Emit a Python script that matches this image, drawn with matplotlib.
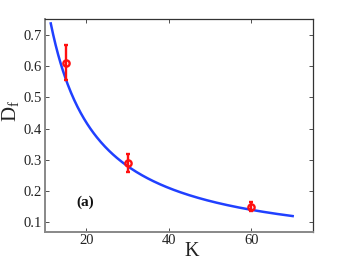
import numpy as np
import matplotlib
matplotlib.use("Agg")
import matplotlib.pyplot as plt

# Measured data
K_pts = [15, 30, 60]
Df_pts = [0.611, 0.290, 0.150]
err_low = [0.056, 0.029, 0.013]
err_high = [0.058, 0.028, 0.014]

# Fit curve parameters: Df = a * K^(-b)
fit_a = 8.4
fit_b = 1.0
fit_range = [11.4, 70]

xticks = [20, 40, 60]
yticks = [0.1, 0.2, 0.3, 0.4, 0.5, 0.6, 0.7]

plt.rcParams['font.family'] = ['Liberation Serif', 'DejaVu Serif']
plt.rcParams['mathtext.fontset'] = 'custom'
plt.rcParams['mathtext.rm'] = 'Liberation Serif'
plt.rcParams['mathtext.it'] = 'Liberation Serif'

fig = plt.figure(figsize=(3.46, 2.61), dpi=100)
ax = fig.add_axes([0.130, 0.1123, 0.7755, 0.8137])

Kf = np.linspace(fit_range[0], fit_range[1], 300)
ax.plot(Kf, fit_a * Kf ** (-fit_b), color='#2040ff', lw=1.8, zorder=2)

ax.errorbar(K_pts, Df_pts, yerr=[err_low, err_high], fmt='o', color='#ff1010',
            ms=4.5, mfc='none', mew=1.7, elinewidth=1.7, capsize=1.5, capthick=1.4, zorder=3)

ax.set_xlim(10, 75)
ax.set_ylim(0.07, 0.75)
ax.set_xticks(xticks)
ax.set_yticks(yticks)
ax.set_yticklabels([f'{v:.1f}' for v in yticks])
ax.tick_params(direction='in', length=3, width=0.6, labelsize=10.5, top=True, right=True,
               pad=2, colors='#333333', labelcolor='#222222')

for s in ['left', 'bottom']:
    ax.spines[s].set_color('#888888')
    ax.spines[s].set_linewidth(1.4)
for s in ['top', 'right']:
    ax.spines[s].set_color('#333333')
    ax.spines[s].set_linewidth(0.9)

ax.set_ylabel(r'D$_\mathrm{f}$', fontsize=15, color='#222222')
ax.yaxis.set_label_coords(-0.09, 0.57)
ax.set_xlabel('K', fontsize=14.5, color='#222222')
ax.xaxis.set_label_coords(0.545, -0.05)

ax.text(17.5, 0.165, '(a)', fontsize=11, fontweight='bold', va='center', ha='left', color='#111111')

fig.savefig('out.png', dpi=100)
